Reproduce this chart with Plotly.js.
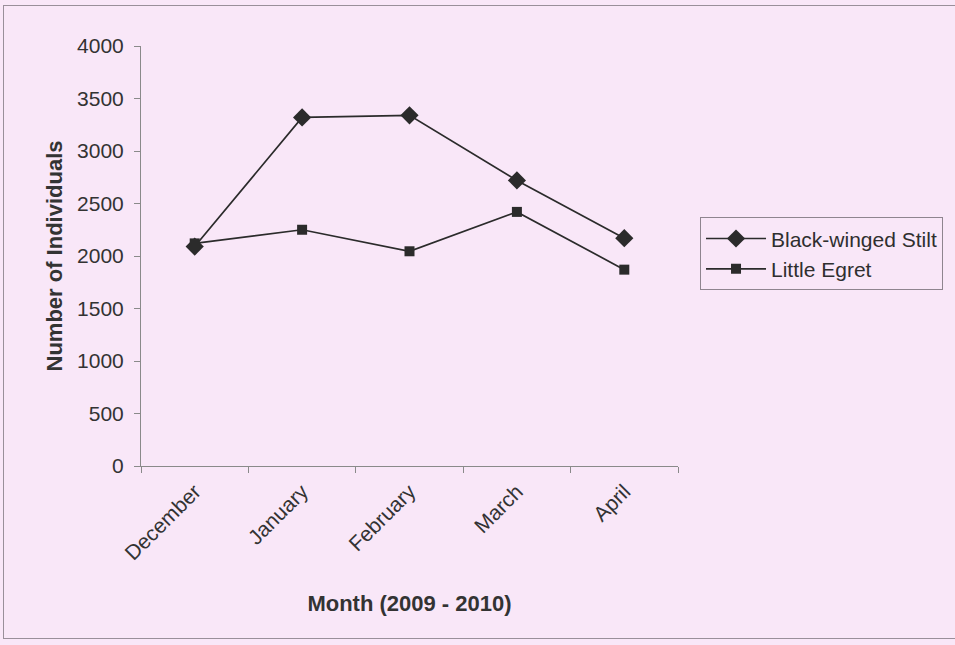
<!DOCTYPE html>
<html>
<head>
<meta charset="utf-8">
<script src="https://cdn.plot.ly/plotly-3.0.1.min.js"></script>
<style>
  html, body { margin: 0; padding: 0; background: #f9e7f8; }
  #frame {
    position: absolute; left: 3px; top: 5px; width: 960px; height: 634px;
    border: 1px solid #9a8f9a; box-sizing: border-box;
  }
  #chart { position: absolute; left: 0; top: 0; width: 955px; height: 645px; }
</style>
</head>
<body>
<div id="chart"></div>
<div id="frame"></div>
<script>
// Monthly counts of two wader species, winter 2009 - 2010
const months = ["December", "January", "February", "March", "April"];
const blackWingedStilt = [2090, 3320, 3340, 2720, 2170];
const littleEgret = [2120, 2250, 2045, 2420, 1870];
const yTicks = [0, 500, 1000, 1500, 2000, 2500, 3000, 3500, 4000];

const ink = "#2b2b2b";

const traces = [
  {
    x: months, y: blackWingedStilt, name: "Black-winged Stilt",
    type: "scatter", mode: "lines+markers",
    line: { color: ink, width: 1.7 },
    marker: { symbol: "diamond", size: 14, color: ink }
  },
  {
    x: months, y: littleEgret, name: "Little Egret",
    type: "scatter", mode: "lines+markers",
    line: { color: ink, width: 1.7 },
    marker: { symbol: "square", size: 10, color: ink }
  }
];

const layout = {
  width: 955, height: 645,
  margin: { l: 141, r: 275, t: 46, b: 179 },
  paper_bgcolor: "#f9e7f8",
  plot_bgcolor: "rgba(0,0,0,0)",
  font: { family: "Liberation Sans, Arial, sans-serif", size: 20, color: "#333" },
  showlegend: true,
  legend: {
    x: 1.041, xanchor: "left", y: 0.592, yanchor: "top",
    bgcolor: "rgba(0,0,0,0)", bordercolor: "#8f858f", borderwidth: 1,
    font: { size: 21, color: "#2f2f2f" },
    itemwidth: 60, tracegroupgap: 0
  },
  xaxis: {
    type: "category",
    tickson: "boundaries",
    ticks: "outside", ticklen: 6, tickcolor: "#8a8a8a",
    showline: true, linecolor: "#8a8a8a", linewidth: 1,
    showgrid: false, zeroline: false,
    tickangle: -45,
    ticklabelstandoff: 4,
    tickfont: { size: 21, color: "#333" },
    title: { text: "<b>Month (2009 - 2010)</b>", font: { size: 22, color: "#333" }, standoff: 32 },
    automargin: false,
    range: [-0.5, 4.5]
  },
  yaxis: {
    range: [0, 4000],
    tickvals: yTicks,
    ticks: "outside", ticklen: 6, tickcolor: "#8a8a8a",
    showline: true, linecolor: "#8a8a8a", linewidth: 1,
    showgrid: false, zeroline: false,
    ticklabelstandoff: 6,
    tickfont: { size: 21, color: "#333" },
    title: { text: "<b>Number of Individuals</b>", font: { size: 22, color: "#333" }, standoff: 8 },
    automargin: false
  }
};

Plotly.newPlot("chart", traces, layout, { staticPlot: true, displayModeBar: false });
</script>
</body>
</html>
